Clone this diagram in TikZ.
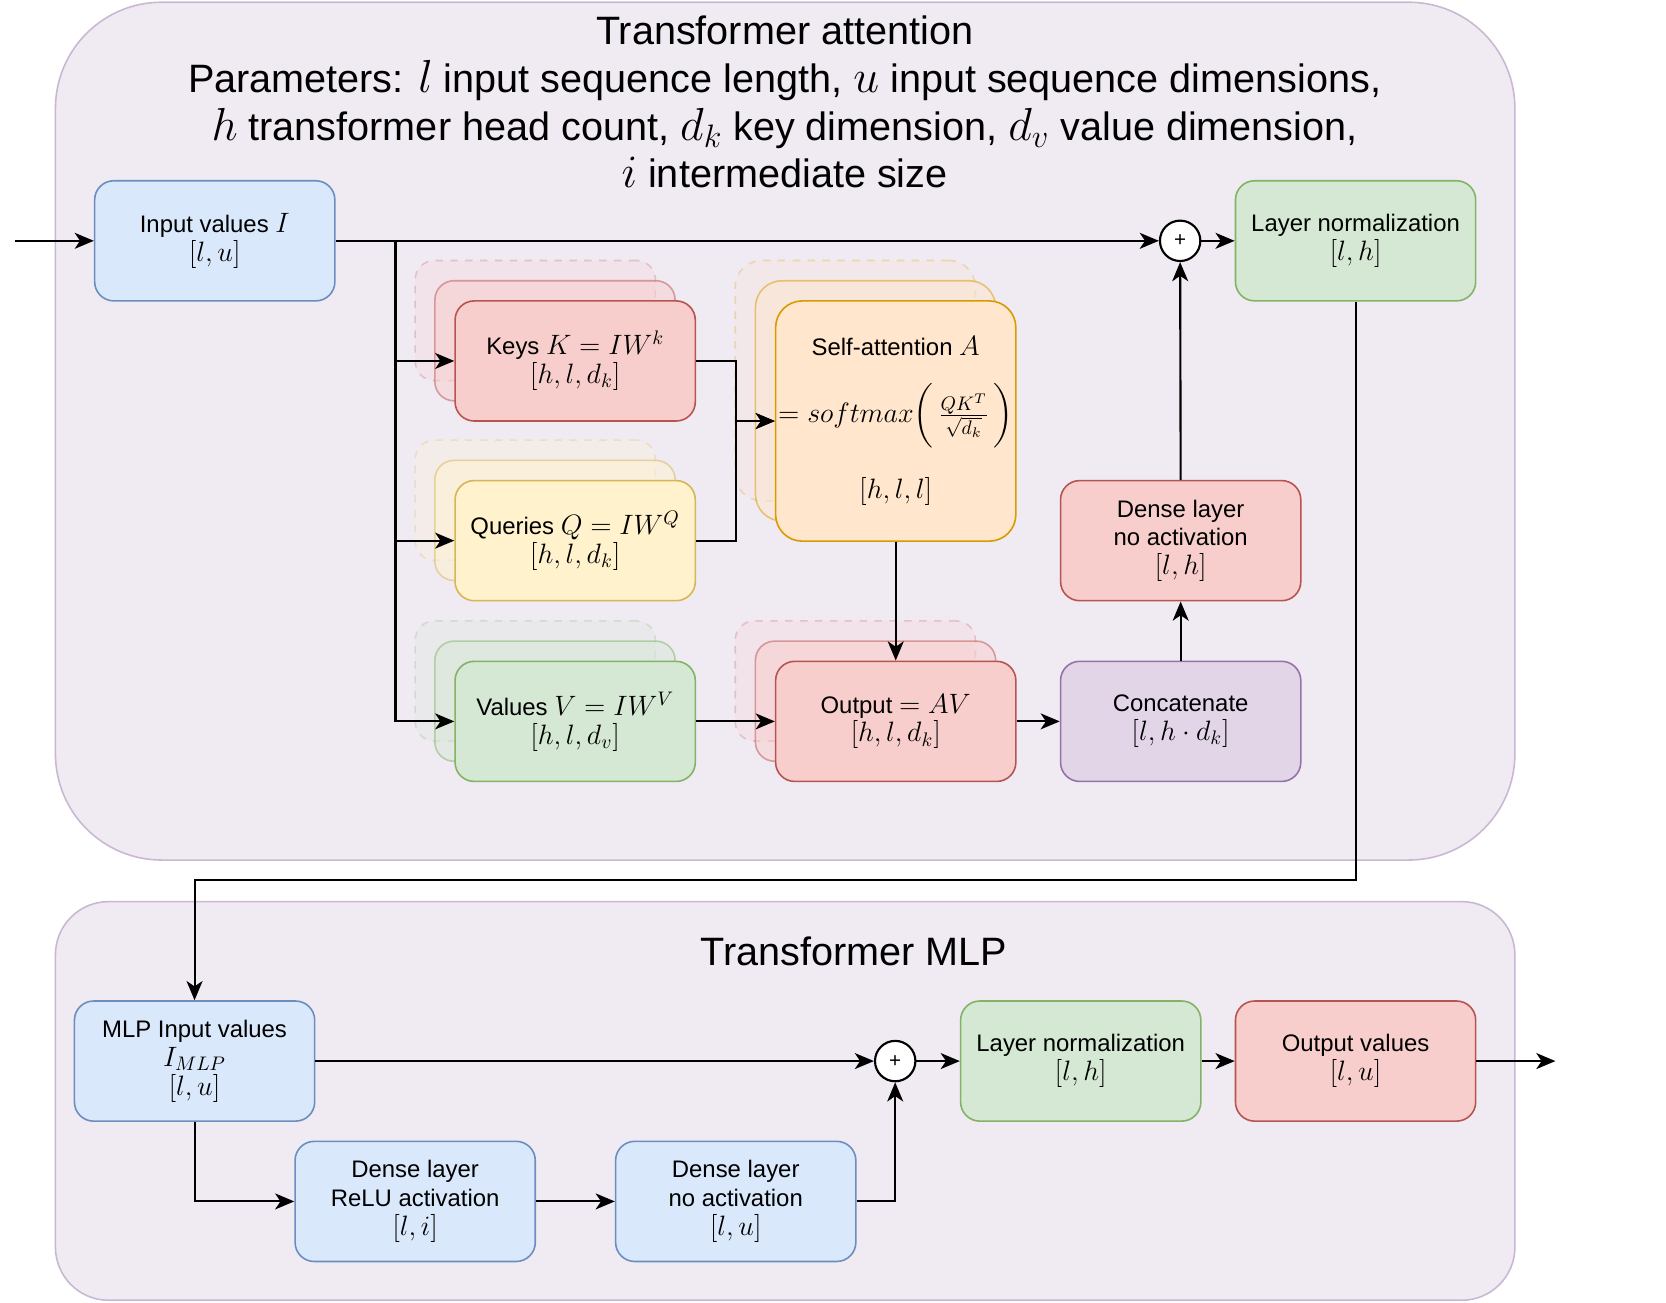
\RequirePackage{fix-cm}
\documentclass[tikz,border=0pt]{standalone}
\usepackage{exscale}
\usepackage{fontspec}
\setmainfont{Liberation Sans}
\usetikzlibrary{arrows.meta}
\definecolor{bfill}{HTML}{DAE8FC}\definecolor{bdraw}{HTML}{6C8EBF}
\definecolor{gfill}{HTML}{D5E8D4}\definecolor{gdraw}{HTML}{82B366}
\definecolor{rfill}{HTML}{F8CECC}\definecolor{rdraw}{HTML}{B85450}
\definecolor{yfill}{HTML}{FFF2CC}\definecolor{ydraw}{HTML}{D6B656}
\definecolor{ofill}{HTML}{FFE6CC}\definecolor{odraw}{HTML}{D79B00}
\definecolor{pfill}{HTML}{E1D5E7}\definecolor{pdraw}{HTML}{9673A6}
\definecolor{cfill}{HTML}{F0EAF3}\definecolor{cdraw}{HTML}{C9B8D2}
\newcommand\tx{\fontsize{12.8}{15.4}\selectfont}
\newcommand\mth[1]{{\fontsize{15}{15.4}\selectfont$#1$}}
\newcommand\ttl{\fontsize{21.2}{25.6}\selectfont}
\newcommand\tm[1]{{\fontsize{24.8}{25.6}\selectfont$#1$}}
\tikzset{
  box/.style={rectangle, rounded corners=0.36cm, minimum width=4.52cm, minimum height=2.26cm,
    line width=0.03cm, align=center, font=\tx, inner sep=1pt},
  bluec/.style={fill=bfill, draw=bdraw},
  greenc/.style={fill=gfill, draw=gdraw},
  redc/.style={fill=rfill, draw=rdraw},
  yellowc/.style={fill=yfill, draw=ydraw},
  orangec/.style={fill=ofill, draw=odraw},
  purplec/.style={fill=pfill, draw=pdraw},
  ghostmid/.style={opacity=0.5},
  ghostback/.style={opacity=0.25, dash pattern=on 0.14cm off 0.14cm},
  bigbox/.style={box, minimum height=4.52cm, rounded corners=0.5cm},
  container/.style={rectangle, fill=cfill, draw=cdraw, line width=0.03cm, minimum width=27.46cm},
  arr/.style={line width=0.04cm, -{Stealth[length=0.36cm, width=0.3cm, inset=0.1cm]}},
  plusnode/.style={circle, draw=black, fill=white, line width=0.04cm, minimum size=0.76cm,
    inner sep=0pt, font=\fontsize{11}{11}\selectfont},
}
\begin{document}
\begin{tikzpicture}[x=0.02cm, y=-0.02cm]
\useasboundingbox (0,0) rectangle (1567,1225);
% containers
\node[container, minimum height=16.14cm, rounded corners=2cm] (attn) at (738.5,405.5) {};
\node[container, minimum height=7.5cm, rounded corners=1cm] (mlp) at (738.5,1035.5) {};
\node[font=\ttl, align=center] (title1) at (738,96) {Transformer attention\\
  Parameters: \tm{l} input sequence length, \tm{u} input sequence dimensions,\\
  \tm{h} transformer head count, \tm{d_k} key dimension, \tm{d_v} value dimension,\\
  \tm{i} intermediate size};
\node[font=\ttl] (title2) at (803,895) {Transformer MLP};
% top row
\node[box, bluec] (inp) at (202,226.5) {Input values \mth{I}\\\mth{[l,u]}};
\node[box, greenc] (ln1) at (1275,226.5) {Layer normalization\\\mth{[l,h]}};
\node[plusnode] (plus1) at (1110,226.5) {+};
% keys stack
\node[box, redc, ghostback] (kb2) at (503.5,301.5) {};
\node[box, redc, ghostmid] (kb1) at (522,320.5) {};
\node[box, redc] (keys) at (541,339.5) {Keys \mth{K=IW^k}\\\mth{[h,l,d_k]}};
% queries stack
\node[box, yellowc, ghostback] (qb2) at (503.5,470.5) {};
\node[box, yellowc, ghostmid] (qb1) at (522,489.5) {};
\node[box, yellowc] (queries) at (541,508.5) {Queries \mth{Q=IW^Q}\\\mth{[h,l,d_k]}};
% values stack
\node[box, greenc, ghostback] (vb2) at (503.5,640.5) {};
\node[box, greenc, ghostmid] (vb1) at (522,659.5) {};
\node[box, greenc] (values) at (541,678.5) {Values \mth{V=IW^V}\\\mth{[h,l,d_v]}};
% self-attention stack
\node[bigbox, orangec, ghostback] (sb2) at (804.5,358) {};
\node[bigbox, orangec, ghostmid] (sb1) at (823.5,377) {};
\node[bigbox, orangec, inner xsep=0pt] (sa) at (842.5,396) {Self-attention \mth{A}\\[13pt]
  \mth{=softmax\biggl(\,\frac{QK^T}{\sqrt{d_k}}\,\biggr)}\\[14pt]\mth{[h,l,l]}};
% output stack
\node[box, redc, ghostback] (ob2) at (804.5,640.5) {};
\node[box, redc, ghostmid] (ob1) at (823.5,659.5) {};
\node[box, redc] (outp) at (842.5,678.5) {Output \mth{=AV}\\\mth{[h,l,d_k]}};
% right column
\node[box, purplec] (concat) at (1110.5,678.5) {Concatenate\\\mth{[l,h\cdot d_k]}};
\node[box, redc] (dense1) at (1110.5,508.5) {Dense layer\\no activation\\\mth{[l,h]}};
% MLP
\node[box, bluec] (mlpin) at (183,998) {MLP Input values\\\mth{I_{MLP}}\\\mth{[l,u]}};
\node[plusnode] (plus2) at (842,998) {+};
\node[box, greenc] (ln2) at (1016.5,998) {Layer normalization\\\mth{[l,h]}};
\node[box, redc] (outv) at (1275,998) {Output values\\\mth{[l,u]}};
\node[box, bluec] (relu) at (390.5,1130) {Dense layer\\ReLU activation\\\mth{[l,i]}};
\node[box, bluec] (noact) at (692,1130) {Dense layer\\no activation\\\mth{[l,u]}};
% coordinates
\coordinate (start) at (14,226.5);
\coordinate (br) at (372,226.5);
\coordinate (kq) at (692,396);
\coordinate (c1) at (1275,828);
\coordinate (c2) at (183,828);
\coordinate (end) at (1463,998);
% connectors
\draw[arr] (start) -- (inp.west);
\draw[arr] (inp.east) -- (plus1.west);
\draw[arr] (br) |- (keys.west);
\draw[arr] (br) |- (queries.west);
\draw[arr] (br) |- (values.west);
\draw[arr] (keys.east) -| (kq) -- (sa.west);
\draw[arr] (queries.east) -| (kq) -- (sa.west);
\draw[arr] (sa.south) -- (outp.north);
\draw[arr] (values.east) -- (outp.west);
\draw[arr] (outp.east) -- (concat.west);
\draw[arr] (concat.north) -- (dense1.south);
\draw[arr] (dense1.north) -- (plus1.south);
\draw[arr] (plus1.east) -- (ln1.west);
\draw[arr] (ln1.south) -- (c1) -- (c2) -- (mlpin.north);
\draw[arr] (mlpin.east) -- (plus2.west);
\draw[arr] (mlpin.south) |- (relu.west);
\draw[arr] (relu.east) -- (noact.west);
\draw[arr] (noact.east) -| (plus2.south);
\draw[arr] (plus2.east) -- (ln2.west);
\draw[arr] (ln2.east) -- (outv.west);
\draw[arr] (outv.east) -- (end);
\end{tikzpicture}
\end{document}
